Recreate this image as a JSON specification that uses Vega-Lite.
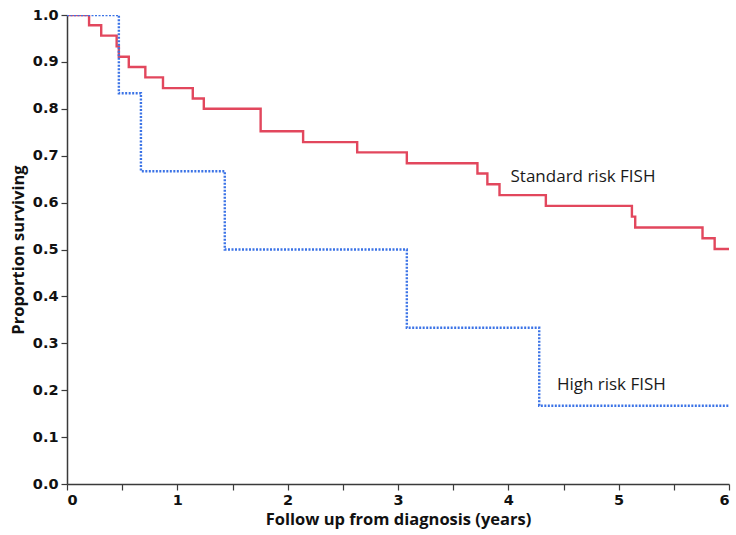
{
  "$schema": "https://vega.github.io/schema/vega-lite/v6.json",
  "autosize": "none",
  "width": 662,
  "height": 469,
  "padding": {"left": 67, "top": 15, "right": 7, "bottom": 51},
  "background": "white",
  "config": {
    "view": {"stroke": null},
    "axis": {
      "grid": false,
      "domainColor": "#3a3a3a",
      "domainWidth": 1.5,
      "tickColor": "#3a3a3a",
      "tickWidth": 1.2,
      "tickSize": 6,
      "labelFont": "DejaVu Sans",
      "labelFontWeight": "bold",
      "labelFontSize": 14.5,
      "labelColor": "#111",
      "titleFont": "Open Sans",
      "titleFontWeight": "bold",
      "titleFontSize": 16.5,
      "titleColor": "#111"
    }
  },
  "layer": [
    {
      "data": {
        "values": [
          {"time": 0, "surv": 1.0, "group": "Standard risk FISH"},
          {"time": 0.2, "surv": 0.978, "group": "Standard risk FISH"},
          {"time": 0.31, "surv": 0.956, "group": "Standard risk FISH"},
          {"time": 0.45, "surv": 0.933, "group": "Standard risk FISH"},
          {"time": 0.47, "surv": 0.911, "group": "Standard risk FISH"},
          {"time": 0.56, "surv": 0.889, "group": "Standard risk FISH"},
          {"time": 0.71, "surv": 0.867, "group": "Standard risk FISH"},
          {"time": 0.87, "surv": 0.844, "group": "Standard risk FISH"},
          {"time": 1.14, "surv": 0.822, "group": "Standard risk FISH"},
          {"time": 1.24, "surv": 0.8, "group": "Standard risk FISH"},
          {"time": 1.755, "surv": 0.752, "group": "Standard risk FISH"},
          {"time": 2.14, "surv": 0.729, "group": "Standard risk FISH"},
          {"time": 2.63, "surv": 0.707, "group": "Standard risk FISH"},
          {"time": 3.08, "surv": 0.684, "group": "Standard risk FISH"},
          {"time": 3.72, "surv": 0.662, "group": "Standard risk FISH"},
          {"time": 3.81, "surv": 0.639, "group": "Standard risk FISH"},
          {"time": 3.92, "surv": 0.616, "group": "Standard risk FISH"},
          {"time": 4.34, "surv": 0.593, "group": "Standard risk FISH"},
          {"time": 5.12, "surv": 0.57, "group": "Standard risk FISH"},
          {"time": 5.15, "surv": 0.547, "group": "Standard risk FISH"},
          {"time": 5.76, "surv": 0.524, "group": "Standard risk FISH"},
          {"time": 5.87, "surv": 0.501, "group": "Standard risk FISH"},
          {"time": 6.0, "surv": 0.501, "group": "Standard risk FISH"}
        ]
      },
      "mark": {"type": "line", "interpolate": "step-after", "color": "#e2475d", "strokeWidth": 2.4, "clip": true},
      "encoding": {
        "x": {"field": "time", "type": "quantitative", "scale": {"domain": [0, 6], "nice": false},
          "axis": {"values": [0, 0.5, 1, 1.5, 2, 2.5, 3, 3.5, 4, 4.5, 5, 5.5, 6],
            "labelExpr": "datum.value % 1 === 0 ? format(datum.value, 'd') : ''",
            "title": "Follow up from diagnosis (years)", "labelPadding": 3, "titlePadding": 5}},
        "y": {"field": "surv", "type": "quantitative", "scale": {"domain": [0, 1], "nice": false},
          "axis": {"values": [0, 0.1, 0.2, 0.3, 0.4, 0.5, 0.6, 0.7, 0.8, 0.9, 1.0], "format": ".1f",
            "title": "Proportion surviving", "labelPadding": 3, "titlePadding": 6}}
      }
    },
    {
      "data": {
        "values": [
          {"time": 0, "surv": 1.0, "group": "High risk FISH"},
          {"time": 0.47, "surv": 0.833, "group": "High risk FISH"},
          {"time": 0.67, "surv": 0.667, "group": "High risk FISH"},
          {"time": 1.43, "surv": 0.5, "group": "High risk FISH"},
          {"time": 3.08, "surv": 0.333, "group": "High risk FISH"},
          {"time": 4.28, "surv": 0.167, "group": "High risk FISH"},
          {"time": 6.0, "surv": 0.167, "group": "High risk FISH"}
        ]
      },
      "mark": {"type": "line", "interpolate": "step-after", "color": "#3b73e6", "strokeWidth": 2.4, "strokeDash": [2, 1.5], "clip": true},
      "encoding": {
        "x": {"field": "time", "type": "quantitative"},
        "y": {"field": "surv", "type": "quantitative"}
      }
    },
    {
      "data": {
        "values": [
          {"label": "Standard risk FISH", "time": 4.02, "surv": 0.655},
          {"label": "High risk FISH", "time": 4.44, "surv": 0.211}
        ]
      },
      "mark": {"type": "text", "align": "left", "baseline": "middle", "font": "Open Sans", "fontSize": 17, "color": "#1a1a1a"},
      "encoding": {
        "x": {"field": "time", "type": "quantitative"},
        "y": {"field": "surv", "type": "quantitative"},
        "text": {"field": "label"}
      }
    }
  ]
}
